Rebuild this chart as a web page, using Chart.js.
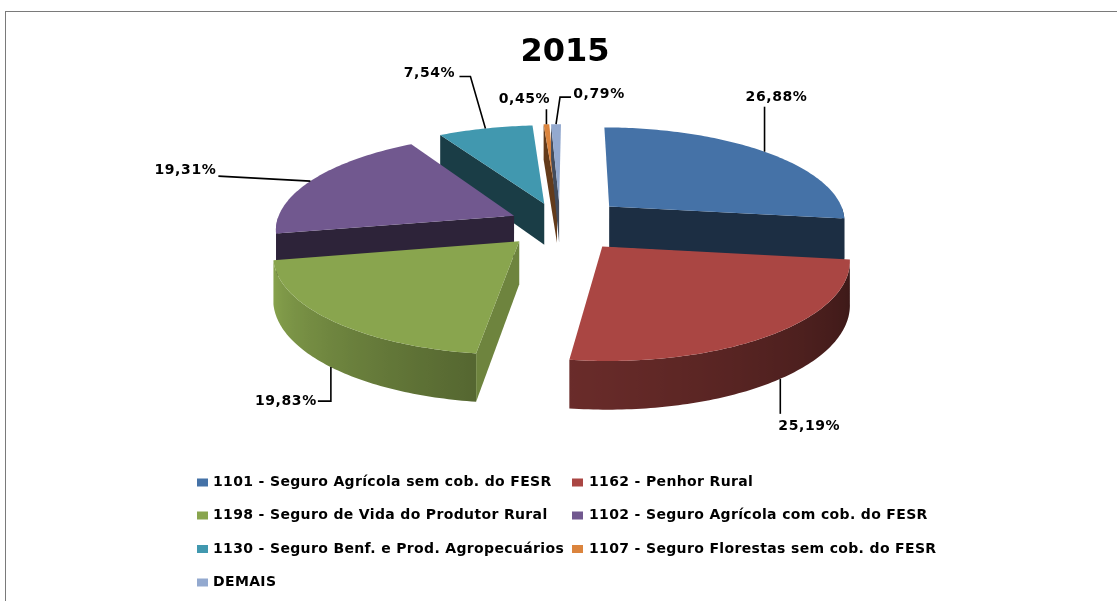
<!DOCTYPE html>
<html>
<head>
<meta charset="utf-8">
<title>2015</title>
<script src="https://cdn.jsdelivr.net/npm/chart.js@4"></script>
<style>
	html, body { margin: 0; padding: 0; background: #fff; overflow: hidden; }
	#myChart { position: absolute; left: 0; top: 0; }
	#frame { position: absolute; left: 5px; top: 11px; width: 1200px; height: 700px; border: 1px solid #7a7a7a; }
</style>
</head>
<body>
<canvas id="myChart" width="1117" height="601"></canvas>
<div id="frame"></div>
<script>
const titleText = "2015";
const categories = [
	"1101 - Seguro Agrícola sem cob. do FESR",
	"1162 - Penhor Rural",
	"1198 - Seguro de Vida do Produtor Rural",
	"1102 - Seguro Agrícola com cob. do FESR",
	"1130 - Seguro Benf. e Prod. Agropecuários",
	"1107 - Seguro Florestas sem cob. do FESR",
	"DEMAIS"
];
const shares = [26.88, 25.19, 19.83, 19.31, 7.54, 0.45, 0.79];

const sliceColors = ["#4572A7", "#AA4643", "#89A54E", "#71588F", "#4198AF", "#DB843D", "#93A9CF"];
const sliceOffsets = [16.8, 17, 14.5, 12.8, 13.5, 14, 14];
const sideFaces = ["end", null, "start", "start", "start", "start", "start"]; //cut face seen from the camera
const sideShades = [0.4, 0, 0.8, 0.4, 0.4, 0.45, 0.45];
const drawOrder = [4, 5, 6, 0, 3, 2, 1]; //back to front

//legend grid, item index by row and column
const legendRows = [[0, 1], [2, 3], [4, 5], [6]];
const legendRowY = [482.5, 515.5, 549, 582.5];
const legendColX = [197, 572];

//at = where along the slice the leader starts, line and text are relative to that rim point
const leaders = [
	{ at: 0.5, z: 0, line: [[0, -45]], text: [12, -54] },
	{ at: 0.467, z: 1, line: [[0, 35]], text: [29, 48] },
	{ at: 0.505, z: 1, line: [[0, 34], [-13, 34]], text: [-45, 34] },
	{ at: 0.48, z: 0, line: [[-92, -5]], text: [-125, -11] },
	{ at: 0.5, z: 0, line: [[-15, -52], [-26, -52]], text: [-56, -55] },
	{ at: 0.5, z: 0, line: [[0, -15]], text: [-22, -25] },
	{ at: 0.5, z: 0, line: [[4, -27], [15, -27]], text: [43, -30] }
];

//fake 3D view of the pie plane
const VIEW = { x: 560, y: 224, radius: 238, tilt: 0.405, perspective: 0.13, depth: 42 };

function project(px, py, z) {
	let f = 1 + VIEW.perspective * py;
	return [
		VIEW.x + VIEW.radius * px * f,
		VIEW.y + VIEW.radius * VIEW.tilt * py * f + VIEW.depth * z * f
	];
}

function rimShade(angle) {
	//angle is degrees clockwise from 12 o'clock
	let t = (angle + 90 + 360) % 360;
	if (t <= 100) return 0.35;
	if (t <= 190) return 0.35 + (t - 100) / 90 * 0.28;
	if (t <= 260) return 0.63 + (t - 190) / 70 * 0.37;
	return 1;
}

function shade(hex, k) {
	let n = parseInt(hex.slice(1), 16);
	let r = Math.round((n >> 16 & 255) * k);
	let g = Math.round((n >> 8 & 255) * k);
	let b = Math.round((n & 255) * k);
	return "rgb(" + r + "," + g + "," + b + ")";
}

function fillPoly(ctx, points, color) {
	ctx.beginPath();
	points.forEach((p, i) => i ? ctx.lineTo(p[0], p[1]) : ctx.moveTo(p[0], p[1]));
	ctx.closePath();
	ctx.fillStyle = color;
	ctx.fill();
}

function sliceGeometry(arc) {
	let mid = (arc.startAngle + arc.endAngle) / 2;
	let off = arc.options.offset / arc.outerRadius;
	return { ox: Math.cos(mid) * off, oy: Math.sin(mid) * off };
}

function drawSlice(ctx, arc, i) {
	let g = sliceGeometry(arc);
	let color = sliceColors[i];
	let rim = [];
	let steps = Math.max(2, Math.ceil((arc.endAngle - arc.startAngle) * 180 / Math.PI));
	for (let s = 0; s <= steps; s++) {
		let a = arc.startAngle + (arc.endAngle - arc.startAngle) * s / steps;
		rim.push([g.ox + Math.cos(a), g.oy + Math.sin(a), a]);
	}
	let at = (p, z) => project(p[0], p[1], z);
	let apex = [g.ox, g.oy];

	//outer wall, only the part that faces the front
	let front = rim.filter(p => Math.sin(p[2]) > 0);
	if (front.length > 1) {
		let xs = front.map(p => at(p, 0)[0]);
		let minX = Math.min(...xs);
		let maxX = Math.max(...xs);
		let grad = ctx.createLinearGradient(minX, 0, maxX, 0);
		front.forEach((p, k) => {
			grad.addColorStop((xs[k] - minX) / (maxX - minX), shade(color, rimShade(p[2] * 180 / Math.PI)));
		});
		fillPoly(ctx, front.map(p => at(p, 0)).concat(front.slice().reverse().map(p => at(p, 1))), grad);
	}
	if (sideFaces[i]) {
		let edge = sideFaces[i] == "start" ? rim[0] : rim[rim.length - 1];
		fillPoly(ctx, [at(apex, 0), at(edge, 0), at(edge, 1), at(apex, 1)], shade(color, sideShades[i]));
	}
	fillPoly(ctx, [at(apex, 0)].concat(rim.map(p => at(p, 0))), color);
}

function drawLeader(ctx, arc, i) {
	let g = sliceGeometry(arc);
	let spec = leaders[i];
	let a = arc.startAngle + (arc.endAngle - arc.startAngle) * spec.at;
	let start = project(g.ox + Math.cos(a), g.oy + Math.sin(a), spec.z);
	ctx.beginPath();
	ctx.moveTo(start[0], start[1]);
	spec.line.forEach(p => ctx.lineTo(start[0] + p[0], start[1] + p[1]));
	ctx.strokeStyle = "#000";
	ctx.lineWidth = 1.6;
	ctx.stroke();
	ctx.fillStyle = "#000";
	ctx.fillText(shares[i].toFixed(2).replace(".", ",") + "%", start[0] + spec.text[0], start[1] + spec.text[1]);
}

function drawLegend(ctx) {
	legendRows.forEach((row, r) => {
		row.forEach((item, c) => {
			let x = legendColX[c];
			let y = legendRowY[r];
			ctx.fillStyle = sliceColors[item];
			ctx.fillRect(x, y - 4, 11, 8);
			ctx.fillStyle = "#000";
			ctx.fillText(categories[item], x + (c ? 17 : 16), y);
		});
	});
}

const pie3d = {
	id: "pie3d",
	beforeDatasetsDraw(chart) {
		let ctx = chart.ctx;
		let arcs = chart.getDatasetMeta(0).data;
		ctx.save();
		drawOrder.forEach(i => drawSlice(ctx, arcs[i], i));
		ctx.font = "bold 14px 'DejaVu Sans'";
		ctx.letterSpacing = "0.6px";
		ctx.textBaseline = "middle";
		ctx.textAlign = "center";
		arcs.forEach((arc, i) => drawLeader(ctx, arc, i));
		ctx.letterSpacing = "0.35px";
		ctx.textAlign = "left";
		drawLegend(ctx);
		ctx.restore();
		return false;
	}
};

const data = {
	labels: categories,
	datasets: [{
		data: shares,
		backgroundColor: sliceColors,
		offset: sliceOffsets,
		borderWidth: 0
	}]
};

const config = {
	type: "pie",
	data: data,
	plugins: [pie3d],
	options: {
		responsive: false,
		animation: false,
		events: [],
		rotation: 0.5,
		layout: { padding: { left: 194, right: 181, top: 0, bottom: 0 } },
		plugins: {
			tooltip: { enabled: false },
			legend: { display: false },
			title: {
				display: true,
				text: titleText,
				color: "#000",
				font: { family: "'DejaVu Sans'", size: 32, weight: "bold" },
				padding: { top: 33, bottom: 393 }
			}
		}
	}
};

const myChart = new Chart(document.getElementById("myChart"), config);
</script>
</body>
</html>
